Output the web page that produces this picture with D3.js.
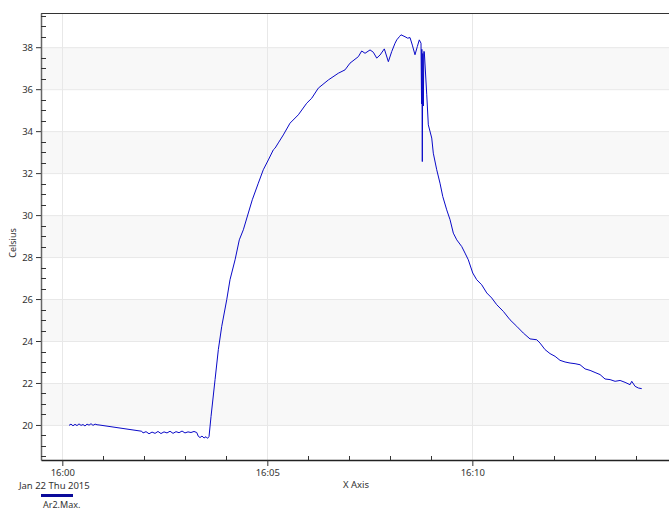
<!DOCTYPE html>
<html>
<head>
<meta charset="utf-8">
<script src="https://cdn.jsdelivr.net/npm/d3@7"></script>
<style>
  body { margin: 0; background: #fff; }
  svg text { font-family: "Noto Sans", "Open Sans", sans-serif; fill: #333; }
</style>
</head>
<body>
<div id="chart"></div>
<script>
// Series: seconds after 16:00:00 on Jan 22 2015, and temperature in Celsius
const seconds = [
  9.8, 12.7, 15.6, 18.6, 21.5, 24.4, 27.4, 30.3, 33.2, 36.1, 39.1, 42.0, 44.9, 47.9, 50.8, 53.7,
  116.2, 118.1, 122.5, 126.9, 131.3, 135.7, 140.0, 144.4, 148.8, 153.2, 157.6, 162.0, 166.4, 170.8,
  175.2, 179.5, 183.9, 188.3, 192.7, 196.7, 199.0, 201.5, 204.4, 207.4, 210.3, 212.5, 214.7,
  217.6, 223.5, 228.3, 233.3, 240.6, 245.4, 252.8, 259.0, 264.9, 272.2, 278.0, 286.8, 294.1,
  301.5, 308.8, 311.3, 316.1, 323.4, 333.2, 345.4, 357.6, 365.0, 374.6, 389.3, 403.9, 413.7,
  421.0, 433.2, 438.1, 443.0, 450.3, 455.1, 460.1, 465.0, 471.2, 477.1, 482.0, 486.9, 489.4,
  493.2, 495.6, 501.5, 505.4, 508.8, 512.2, 516.1, 519.5, 522.4, 524.9, 525.7, 526.1, 526.8,
  527.5, 528.3, 529.0, 529.7, 533.3, 535.6, 540.6, 542.9, 547.9, 552.7, 556.7, 562.5, 567.4,
  572.2, 577.2, 584.5, 589.3, 594.1, 600.6, 606.4, 613.7, 621.1, 628.4, 635.7, 645.4, 655.2,
  665.0, 674.6, 684.4, 694.3, 699.1, 706.4, 713.7, 721.1, 728.3, 735.7, 743.0, 750.3, 757.6,
  765.0, 772.3, 779.6, 786.9, 794.2, 801.6, 808.9, 816.2, 823.5, 830.8, 833.3, 838.2, 843.0, 847.9
];
const celsius = [
  19.98, 20.04, 19.96, 20.03, 19.97, 20.05, 19.98, 20.02, 19.95, 20.04, 19.99, 20.06, 19.98, 20.04, 20.01, 20.00,
  19.70, 19.62, 19.68, 19.58, 19.66, 19.60, 19.69, 19.59, 19.67, 19.62, 19.70, 19.60, 19.68, 19.63,
  19.71, 19.62, 19.67, 19.64, 19.69, 19.64, 19.46, 19.40, 19.47, 19.38, 19.44, 19.36, 19.45,
  20.40, 22.16, 23.59, 24.70, 25.97, 26.92, 27.87, 28.82, 29.30, 30.10, 30.73, 31.52, 32.16,
  32.63, 33.11, 33.19, 33.44, 33.82, 34.38, 34.78, 35.33, 35.57, 36.05, 36.44, 36.76, 36.92,
  37.24, 37.55, 37.82, 37.71, 37.87, 37.76, 37.48, 37.63, 37.92, 37.31, 37.79, 38.19, 38.35,
  38.50, 38.59, 38.50, 38.43, 38.46, 38.10, 37.64, 38.03, 38.35, 38.19, 35.30, 37.90, 32.55,
  37.70, 35.20, 37.80, 37.79, 35.73, 34.30, 33.67, 32.95, 32.16, 31.52, 30.89, 30.25, 29.78,
  29.14, 28.82, 28.50, 28.19, 27.87, 27.24, 26.92, 26.68, 26.29, 26.05, 25.73, 25.41, 25.01,
  24.70, 24.38, 24.10, 24.06, 23.90, 23.59, 23.40, 23.27, 23.08, 23.00, 22.95, 22.92, 22.87,
  22.67, 22.60, 22.50, 22.40, 22.19, 22.16, 22.08, 22.12, 22.03, 21.92, 22.08, 21.84, 21.76, 21.73
];
const yMajorTicks = [20, 22, 24, 26, 28, 30, 32, 34, 36, 38];
const seriesName = "Ar2.Max.";

const width = 669;
const height = 510;
const margin = { top: 13, right: 0, bottom: 50, left: 41 };

const start = new Date(2015, 0, 22, 16, 0, 0);
const toDate = s => new Date(+start + s * 1000);
const data = seconds.map((s, i) => ({ t: toDate(s), v: celsius[i] }));

const svg = d3.select("#chart")
  .append("svg")
  .attr("width", width)
  .attr("height", height);

const x = d3.scaleTime()
  .domain([toDate(-31.2), toDate(887.8)])
  .range([margin.left, width - margin.right]);

const y = d3.scaleLinear()
  .domain([18.33, 39.63])
  .range([height - margin.bottom, margin.top]);

const plotTop = margin.top, plotBottom = height - margin.bottom;

// alternating bands
svg.append("g")
  .selectAll("rect")
  .data(yMajorTicks.filter(d => (d / 2) % 2 === 0))
  .join("rect")
  .attr("x", margin.left)
  .attr("width", width - margin.right - margin.left)
  .attr("y", d => y(d + 2))
  .attr("height", d => y(d) - y(d + 2))
  .attr("fill", "#f8f8f8");

// grid lines
svg.append("g")
  .selectAll("line")
  .data(yMajorTicks)
  .join("line")
  .attr("x1", margin.left)
  .attr("x2", width - margin.right)
  .attr("y1", d => y(d) + 0.5)
  .attr("y2", d => y(d) + 0.5)
  .attr("stroke", "#e8e8e8");

const xMajor = x.ticks(d3.timeMinute.every(5));
svg.append("g")
  .selectAll("line")
  .data(xMajor)
  .join("line")
  .attr("x1", d => Math.round(x(d)) + 0.5)
  .attr("x2", d => Math.round(x(d)) + 0.5)
  .attr("y1", plotTop)
  .attr("y2", plotBottom)
  .attr("stroke", "#e8e8e8");

// the series line
const line = d3.line()
  .x(d => x(d.t))
  .y(d => y(d.v));

svg.append("path")
  .datum(data)
  .attr("fill", "none")
  .attr("stroke", "#0a0ac8")
  .attr("stroke-width", 1)
  .attr("stroke-linejoin", "round")
  .attr("d", line);

// top border
svg.append("line")
  .attr("x1", margin.left)
  .attr("x2", width)
  .attr("y1", plotTop + 0.5)
  .attr("y2", plotTop + 0.5)
  .attr("stroke", "#333");

// y axis: major ticks outside, minor ticks inside
const yAxis = svg.append("g")
  .attr("transform", `translate(${margin.left},0)`);

yAxis.call(d3.axisLeft(y)
  .tickValues(yMajorTicks)
  .tickSize(5)
  .tickPadding(3)
  .tickSizeOuter(0))
  .call(g => g.select(".domain").attr("stroke", "#666").attr("stroke-width", 1.5))
  .call(g => g.selectAll(".tick line").attr("stroke", "#333"))
  .call(g => g.selectAll(".tick text")
    .style("font-size", "9.5px")
    .attr("fill", "#333"));

const yMinor = d3.range(18.5, 39.6, 0.5).filter(v => v % 2 !== 0);
svg.append("g")
  .selectAll("line")
  .data(yMinor)
  .join("line")
  .attr("x1", margin.left)
  .attr("x2", margin.left + 5)
  .attr("y1", d => Math.round(y(d)) + 0.5)
  .attr("y2", d => Math.round(y(d)) + 0.5)
  .attr("stroke", "#333");

// x axis
const xAxis = svg.append("g")
  .attr("transform", `translate(0,${plotBottom})`);

xAxis.call(d3.axisBottom(x)
  .ticks(d3.timeMinute.every(5))
  .tickFormat(d3.timeFormat("%H:%M"))
  .tickSize(6)
  .tickPadding(3)
  .tickSizeOuter(0))
  .call(g => g.select(".domain").attr("stroke", "#222").attr("stroke-width", 1.5))
  .call(g => g.selectAll(".tick line").attr("stroke", "#333"))
  .call(g => g.selectAll(".tick text")
    .style("font-size", "9.5px")
    .attr("fill", "#333"));

const xMinor = x.ticks(d3.timeMinute.every(1)).filter(d => d.getMinutes() % 5 !== 0);
svg.append("g")
  .selectAll("line")
  .data(xMinor)
  .join("line")
  .attr("x1", d => Math.round(x(d)) + 0.5)
  .attr("x2", d => Math.round(x(d)) + 0.5)
  .attr("y1", plotBottom - 4)
  .attr("y2", plotBottom)
  .attr("stroke", "#333");

// date under first tick
svg.append("text")
  .attr("x", x(xMajor[0]) - 8)
  .attr("y", 489)
  .attr("text-anchor", "middle")
  .style("font-size", "9.5px")
  .text(d3.timeFormat("%b %d %a %Y")(xMajor[0]));

// axis titles
svg.append("text")
  .attr("x", 356)
  .attr("y", 488)
  .attr("text-anchor", "middle")
  .style("font-size", "9.5px")
  .text("X Axis");

svg.append("text")
  .attr("transform", "translate(16,243) rotate(-90)")
  .attr("text-anchor", "middle")
  .style("font-size", "9px")
  .text("Celsius");

// legend
svg.append("line")
  .attr("x1", 41)
  .attr("x2", 73)
  .attr("y1", 495.5)
  .attr("y2", 495.5)
  .attr("stroke", "#0a0a9a")
  .attr("stroke-width", 3);

svg.append("text")
  .attr("x", 43)
  .attr("y", 508)
  .style("font-size", "9px")
  .text(seriesName);
</script>
</body>
</html>
